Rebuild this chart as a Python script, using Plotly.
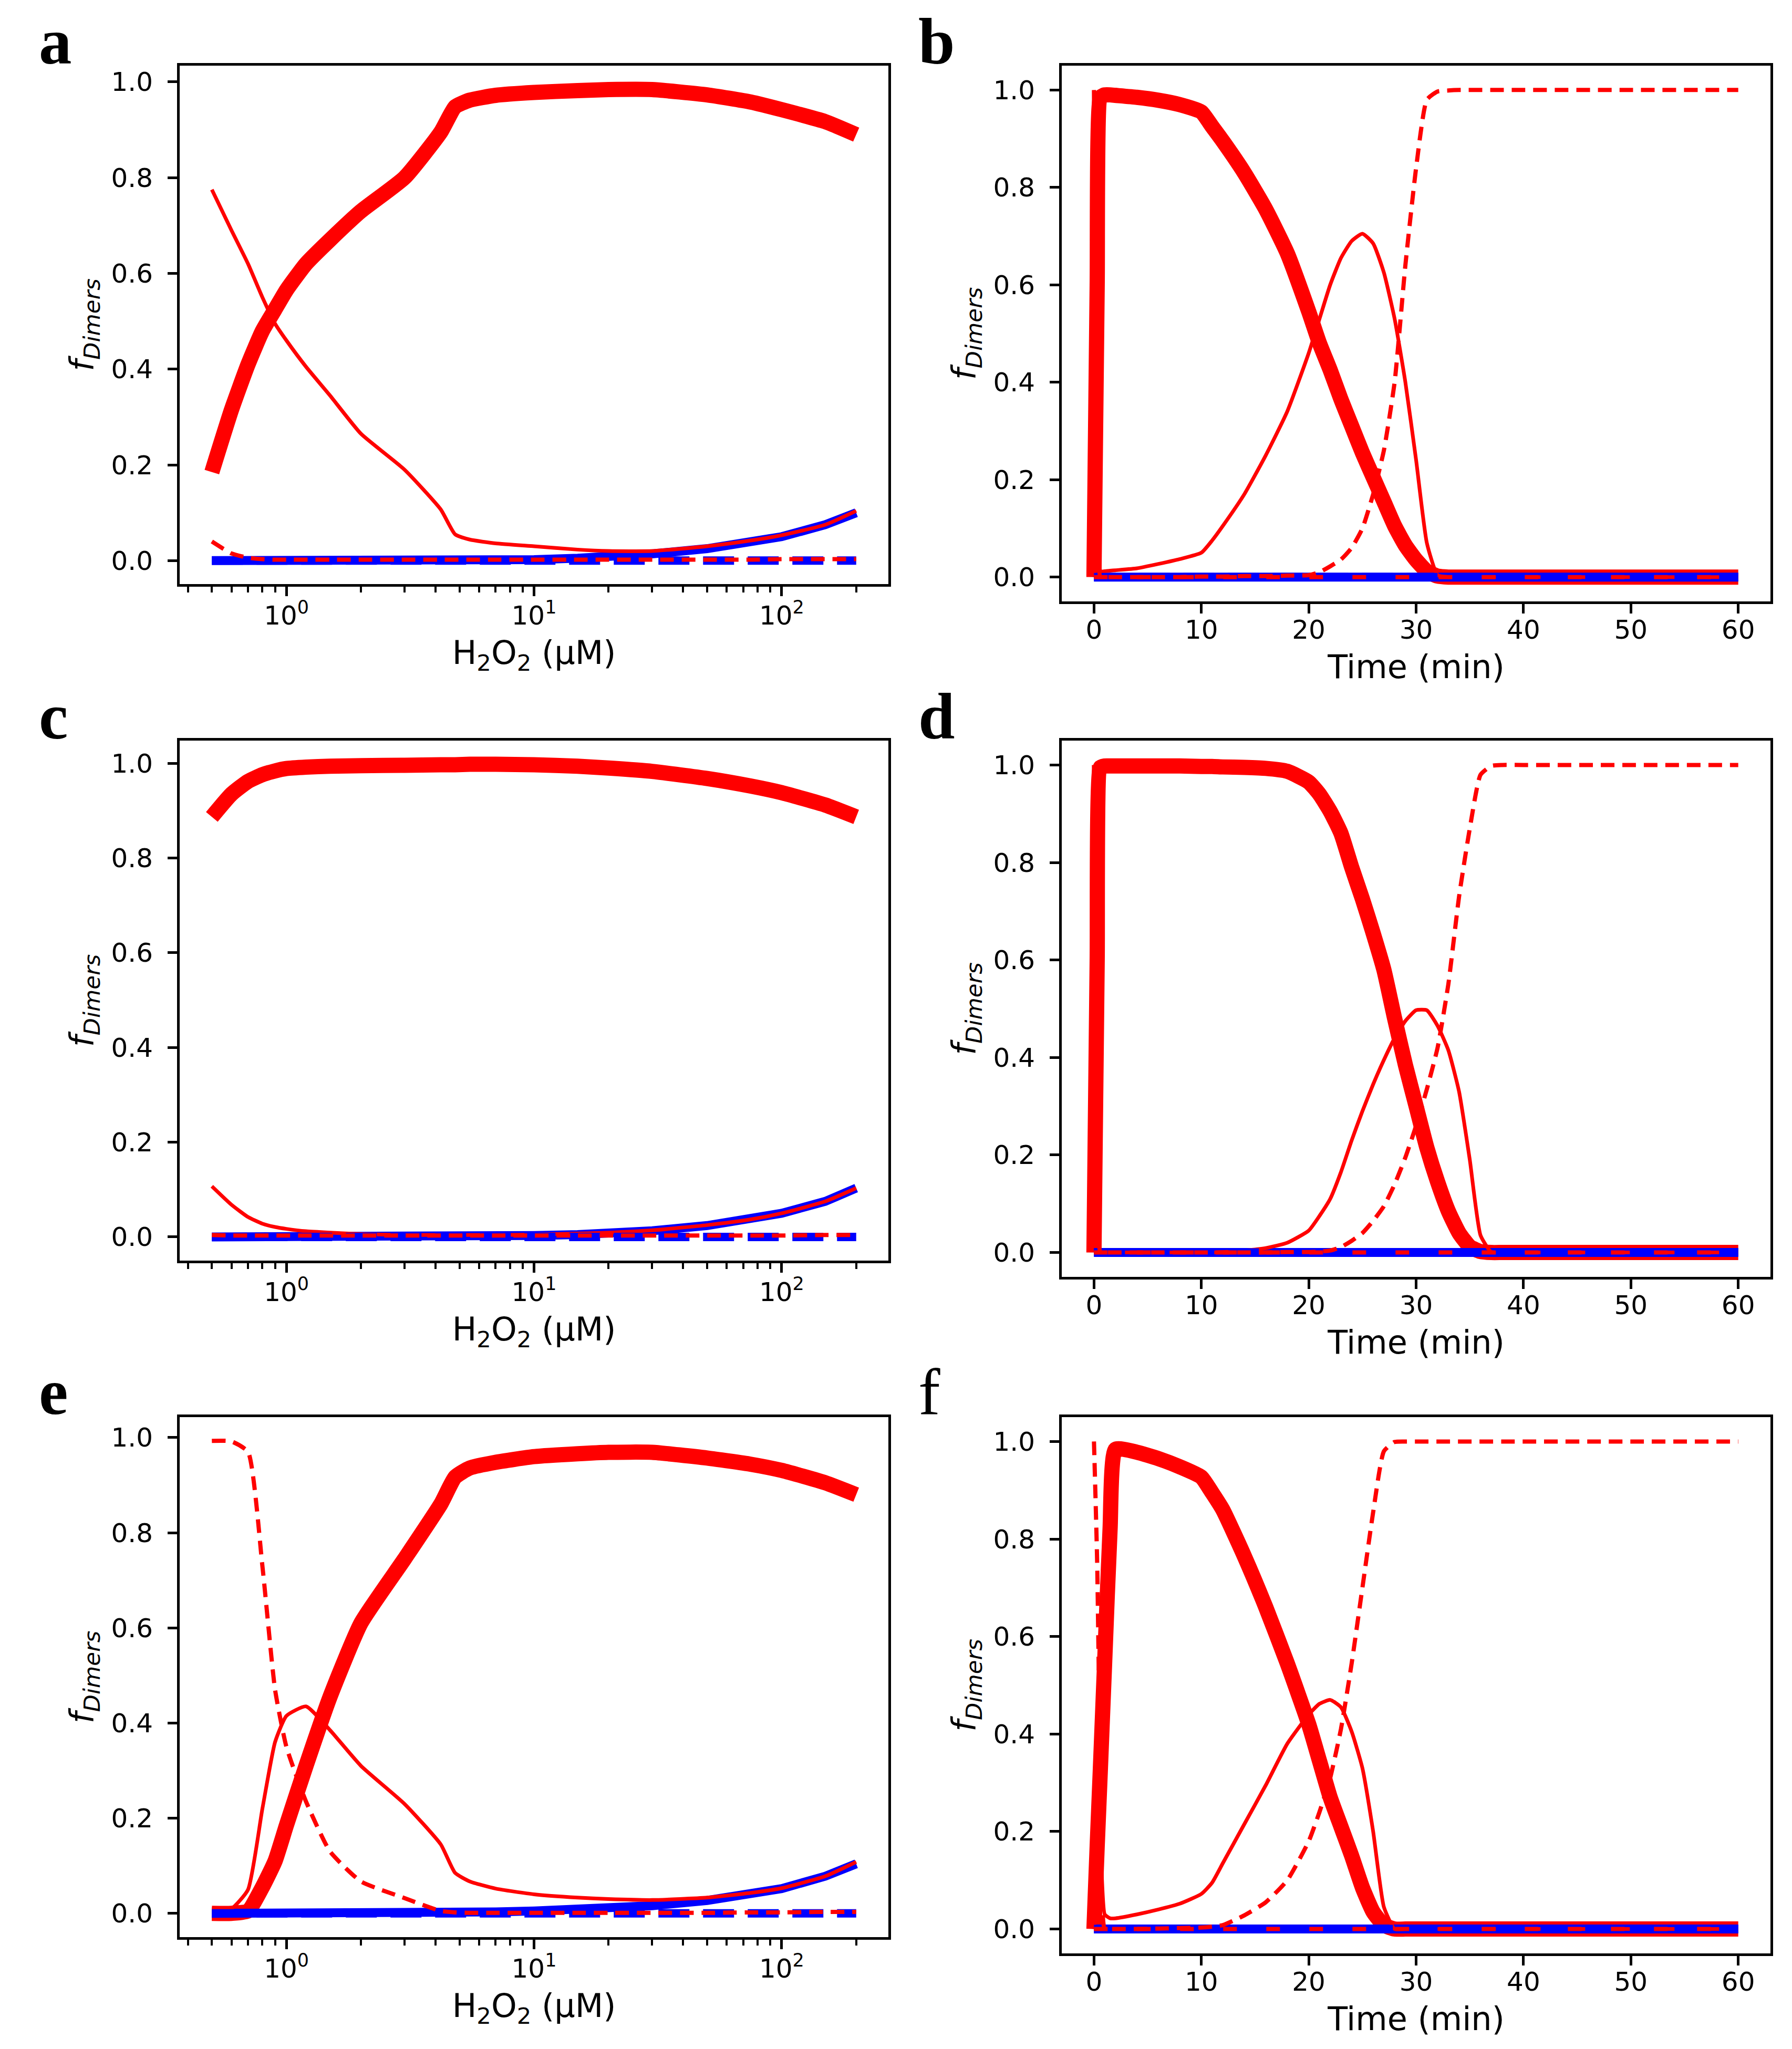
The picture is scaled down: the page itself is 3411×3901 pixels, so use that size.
import plotly.graph_objects as go

W, H = 3411, 3901

# ---- x grids ----
h2o2 = [0.5, 0.6, 0.7, 0.8, 0.9, 1.0, 1.2, 1.5, 2, 3, 4.2, 4.8, 5.5, 7, 10, 15, 20, 30, 50, 75, 100, 150, 200]
time_min = [0, 0.3, 0.6, 1, 1.5, 2, 4, 6, 8, 10, 11, 12, 14, 16, 18, 20, 21, 22, 23, 24, 25, 26, 27, 28, 29, 30,
            31, 32, 33, 34, 35, 36, 37, 38, 40, 50, 60]

zero_h2o2 = [0.0, 0.0, 0.0, 0.0, 0.0, 0.0, 0.0, 0.0, 0.0, 0.0, 0.0, 0.0, 0.0, 0.0, 0.0, 0.0, 0.0, 0.0, 0.0, 0.0,
             0.0, 0.0, 0.0]
zero_time = [0.0, 0.0, 0.0, 0.0, 0.0, 0.0, 0.0, 0.0, 0.0, 0.0, 0.0, 0.0, 0.0, 0.0, 0.0, 0.0, 0.0, 0.0, 0.0, 0.0,
             0.0, 0.0, 0.0, 0.0, 0.0, 0.0, 0.0, 0.0, 0.0, 0.0, 0.0, 0.0, 0.0, 0.0, 0.0, 0.0, 0.0]

# ---- panel a ----
a_thick = [0.185, 0.315, 0.41, 0.48, 0.525, 0.565, 0.62, 0.67, 0.73, 0.80, 0.895, 0.948, 0.962, 0.972, 0.978,
           0.982, 0.984, 0.984, 0.973, 0.958, 0.942, 0.917, 0.89]
a_thin = [0.775, 0.69, 0.62, 0.55, 0.495, 0.46, 0.405, 0.345, 0.265, 0.19, 0.107, 0.055, 0.044, 0.036, 0.03,
          0.023, 0.02, 0.02, 0.03, 0.042, 0.053, 0.075, 0.104]
a_dash = [0.04, 0.015, 0.006, 0.003, 0.002, 0.002, 0.002, 0.002, 0.002, 0.002, 0.002, 0.002, 0.002, 0.002, 0.002,
          0.002, 0.002, 0.002, 0.002, 0.002, 0.003, 0.003, 0.003]
a_blue = [0.0, 0.0, 0.0, 0.0, 0.0, 0.0, 0.0, 0.0, 0.0, 0.0, 0.0, 0.0, 0.0, 0.001, 0.002, 0.005, 0.008, 0.014,
          0.025, 0.038, 0.05, 0.075, 0.1]

# ---- panel c ----
c_thick = [0.887, 0.935, 0.962, 0.976, 0.984, 0.989, 0.992, 0.994, 0.995, 0.996, 0.997, 0.997, 0.998, 0.998,
           0.997, 0.994, 0.99, 0.983, 0.968, 0.952, 0.938, 0.912, 0.887]
c_thin = [0.107, 0.068, 0.042, 0.028, 0.021, 0.017, 0.012, 0.009, 0.006, 0.004, 0.004, 0.004, 0.004, 0.004, 0.005,
          0.007, 0.009, 0.014, 0.025, 0.037, 0.05, 0.075, 0.103]
c_dash = [0.004, 0.003, 0.003, 0.003, 0.003, 0.003, 0.003, 0.003, 0.003, 0.003, 0.003, 0.003, 0.003, 0.003, 0.003,
          0.003, 0.003, 0.003, 0.003, 0.003, 0.003, 0.004, 0.004]
c_blue = [0.0, 0.0, 0.0, 0.0, 0.0, 0.0, 0.0, 0.0, 0.0, 0.0, 0.001, 0.001, 0.001, 0.002, 0.003, 0.005, 0.008,
          0.013, 0.024, 0.037, 0.05, 0.075, 0.103]

# ---- panel e ----
e_thick = [0.0, 0.0, 0.005, 0.055, 0.11, 0.185, 0.31, 0.455, 0.61, 0.745, 0.86, 0.917, 0.936, 0.948, 0.96, 0.966,
           0.969, 0.969, 0.957, 0.944, 0.931, 0.905, 0.88]
e_thin = [0.009, 0.01, 0.05, 0.22, 0.36, 0.415, 0.435, 0.385, 0.31, 0.23, 0.145, 0.085, 0.067, 0.052, 0.04, 0.033,
          0.03, 0.028, 0.033, 0.043, 0.053, 0.078, 0.108]
e_dash = [0.993, 0.992, 0.97, 0.73, 0.47, 0.35, 0.235, 0.13, 0.067, 0.032, 0.005, 0.002, 0.001, 0.001, 0.001,
          0.001, 0.001, 0.001, 0.001, 0.002, 0.002, 0.003, 0.003]
e_blue = [0.0, 0.0, 0.0, 0.0, 0.0, 0.0, 0.0, 0.0, 0.0, 0.0, 0.001, 0.002, 0.002, 0.003, 0.005, 0.008, 0.011,
          0.016, 0.027, 0.04, 0.052, 0.078, 0.104]

# ---- panel b ----
b_thick = [0.0, 0.6, 0.985, 0.99, 0.99, 0.989, 0.985, 0.979, 0.97, 0.955, 0.925, 0.895, 0.83, 0.755, 0.665, 0.545,
           0.48, 0.425, 0.365, 0.31, 0.255, 0.205, 0.155, 0.105, 0.065, 0.035, 0.012, 0.002, 0.0, 0.0, 0.0, 0.0,
           0.0, 0.0, 0.0, 0.0, 0.0]
b_thin = [0.0, 0.05, 0.012, 0.012, 0.013, 0.014, 0.018, 0.027, 0.037, 0.05, 0.075, 0.105, 0.17, 0.25, 0.34, 0.46,
          0.53, 0.6, 0.655, 0.69, 0.705, 0.685, 0.625, 0.53, 0.4, 0.24, 0.07, 0.004, 0.0, 0.0, 0.0, 0.0, 0.0, 0.0,
          0.0, 0.0, 0.0]
b_dash = [1.0, 0.2, 0.0, 0.0, 0.0, 0.0, 0.0, 0.0, 0.0, 0.001, 0.001, 0.001, 0.002, 0.002, 0.003, 0.004, 0.01,
          0.022, 0.036, 0.06, 0.1, 0.17, 0.26, 0.4, 0.64, 0.84, 0.98, 0.997, 0.999, 1.0, 1.0, 1.0, 1.0, 1.0, 1.0,
          1.0, 1.0]
b_blue = [0.0, 0.0, 0.0, 0.0, 0.0, 0.0, 0.0, 0.0, 0.0, 0.0, 0.0, 0.001, 0.001, 0.001, 0.001, 0.002, 0.002, 0.002,
          0.002, 0.002, 0.002, 0.002, 0.002, 0.002, 0.002, 0.001, 0.001, 0.0, 0.0, 0.0, 0.0, 0.0, 0.0, 0.0, 0.0,
          0.0, 0.0]

# ---- panel d ----
d_thick = [0.0, 0.6, 0.995, 0.998, 0.998, 0.998, 0.998, 0.998, 0.998, 0.997, 0.997, 0.996, 0.995, 0.993, 0.987,
           0.965, 0.94, 0.905, 0.86, 0.79, 0.725, 0.655, 0.58, 0.48, 0.385, 0.3, 0.215, 0.145, 0.085, 0.04, 0.012,
           0.002, 0.0, 0.0, 0.0, 0.0, 0.0]
d_thin = [0.0, 0.0, 0.0, 0.0, 0.0, 0.0, 0.0, 0.0, 0.0, 0.0, 0.0, 0.001, 0.004, 0.009, 0.02, 0.045, 0.075, 0.11,
          0.165, 0.23, 0.29, 0.345, 0.395, 0.44, 0.475, 0.497, 0.497, 0.465, 0.415, 0.33, 0.19, 0.035, 0.001, 0.0,
          0.0, 0.0, 0.0]
d_dash = [1.0, 0.2, 0.0, 0.0, 0.0, 0.0, 0.0, 0.0, 0.0, 0.0, 0.0, 0.0, 0.0, 0.0, 0.001, 0.001, 0.002, 0.004,
          0.011, 0.024, 0.04, 0.065, 0.095, 0.14, 0.195, 0.26, 0.335, 0.42, 0.55, 0.73, 0.87, 0.98, 0.998, 1.0,
          1.0, 1.0, 1.0]
d_blue = [0.0, 0.0, 0.0, 0.0, 0.0, 0.0, 0.0, 0.0, 0.001, 0.001, 0.001, 0.001, 0.001, 0.001, 0.001, 0.001, 0.001,
          0.001, 0.001, 0.001, 0.001, 0.001, 0.001, 0.001, 0.001, 0.001, 0.001, 0.001, 0.001, 0.0, 0.0, 0.0, 0.0,
          0.0, 0.0, 0.0, 0.0]

# ---- panel f ----
f_thick = [0.0, 0.17, 0.33, 0.55, 0.82, 0.984, 0.978, 0.965, 0.948, 0.927, 0.895, 0.86, 0.765, 0.66, 0.545, 0.42,
           0.345, 0.27, 0.21, 0.15, 0.085, 0.035, 0.008, 0.0, 0.0, 0.0, 0.0, 0.0, 0.0, 0.0, 0.0, 0.0, 0.0, 0.0,
           0.0, 0.0, 0.0]
f_thin = [0.0, 0.1, 0.17, 0.03, 0.022, 0.022, 0.03, 0.04, 0.052, 0.072, 0.095, 0.135, 0.215, 0.295, 0.38, 0.44,
          0.462, 0.47, 0.455, 0.405, 0.33, 0.2, 0.045, 0.0, 0.0, 0.0, 0.0, 0.0, 0.0, 0.0, 0.0, 0.0, 0.0, 0.0, 0.0,
          0.0, 0.0]
f_dash = [1.0, 0.75, 0.3, 0.0, 0.0, 0.0, 0.0, 0.001, 0.002, 0.003, 0.005, 0.008, 0.028, 0.055, 0.1, 0.18, 0.24,
          0.31, 0.41, 0.545, 0.7, 0.855, 0.98, 0.999, 1.0, 1.0, 1.0, 1.0, 1.0, 1.0, 1.0, 1.0, 1.0, 1.0, 1.0, 1.0,
          1.0]
f_blue = [0.0, 0.0, 0.0, 0.0, 0.0, 0.0, 0.001, 0.001, 0.001, 0.001, 0.001, 0.001, 0.002, 0.002, 0.002, 0.002,
          0.002, 0.002, 0.002, 0.002, 0.001, 0.001, 0.001, 0.0, 0.0, 0.0, 0.0, 0.0, 0.0, 0.0, 0.0, 0.0, 0.0, 0.0,
          0.0, 0.0, 0.0]

letters = ["a", "b", "c", "d", "e", "f"]
h2o2_ticks = [1, 10, 100]
h2o2_ticktext = ["10<sup>0</sup>", "10<sup>1</sup>", "10<sup>2</sup>"]
h2o2_minor = [0.4, 0.5, 0.6, 0.7, 0.8, 0.9, 2, 3, 4, 5, 6, 7, 8, 9, 20, 30, 40, 50, 60, 70, 80, 90, 200]
time_ticks = [0, 10, 20, 30, 40, 50, 60]
y_ticks = [0.0, 0.2, 0.4, 0.6, 0.8, 1.0]

RED, BLUE = "#ff0000", "#0000ff"
FONT = "DejaVu Sans"

fig = go.Figure()


def add_panel(n, x, thick, thin, dash, blue, zero, zero_red=None):
    xa, ya = ("x", "y") if n == 1 else (f"x{n}", f"y{n}")
    kw = dict(x=x, xaxis=xa, yaxis=ya, mode="lines", showlegend=False, hoverinfo="skip")
    sm = dict(shape="spline", smoothing=0.5)
    fig.add_trace(go.Scatter(y=thick, line=dict(color=RED, width=29, **sm), **kw))
    fig.add_trace(go.Scatter(y=blue, line=dict(color=BLUE, width=17), **kw))
    fig.add_trace(go.Scatter(y=thin, line=dict(color=RED, width=7, **sm), **kw))
    fig.add_trace(go.Scatter(y=zero, line=dict(color=BLUE, width=16, dash="59px,26px"), **kw))
    if zero_red is not None:
        fig.add_trace(go.Scatter(y=zero_red, line=dict(color=RED, width=8, dash="26px,56px"), **kw))
    fig.add_trace(go.Scatter(y=dash, line=dict(color=RED, width=8, dash="26px,15px", **sm), **kw))


add_panel(1, h2o2, a_thick, a_thin, a_dash, a_blue, zero_h2o2)
add_panel(2, time_min, b_thick, b_thin, b_dash, b_blue, zero_time, zero_time)
add_panel(3, h2o2, c_thick, c_thin, c_dash, c_blue, zero_h2o2)
add_panel(4, time_min, d_thick, d_thin, d_dash, d_blue, zero_time, zero_time)
add_panel(5, h2o2, e_thick, e_thin, e_dash, e_blue, zero_h2o2)
add_panel(6, time_min, f_thick, f_thin, f_dash, f_blue, zero_time, zero_time)

# pixel boxes of the six axes (left, right, top, bottom) and y ranges
boxes = [(334, 1683, 117, 1104), (2013, 3362, 117, 1137),
         (334, 1683, 1402, 2392), (2013, 3362, 1402, 2423),
         (334, 1683, 2690, 3680), (2013, 3362, 2690, 3711)]
yranges = [[-0.049, 1.034], [-0.05, 1.05], [-0.05, 1.048], [-0.05, 1.05], [-0.05, 1.043], [-0.05, 1.05]]

base = dict(showline=True, linecolor="black", linewidth=5, mirror=True, ticks="outside", ticklen=18,
            tickwidth=5, tickcolor="black", showgrid=False, zeroline=False, automargin=False,
            tickfont=dict(family=FONT, size=50, color="black"))
title_font = dict(family=FONT, size=62, color="black")

layout = {}
for i, (l, r, t, b) in enumerate(boxes):
    n = i + 1
    xk = "xaxis" if n == 1 else f"xaxis{n}"
    yk = "yaxis" if n == 1 else f"yaxis{n}"
    ya = "y" if n == 1 else f"y{n}"
    xa = "x" if n == 1 else f"x{n}"
    if n % 2 == 1:
        xax = dict(base, type="log", range=[-0.431, 2.431], tickmode="array", tickvals=h2o2_ticks,
                   ticktext=h2o2_ticktext, ticklabelstandoff=-6,
                   minor=dict(tickmode="array", tickvals=h2o2_minor, ticks="outside", ticklen=11, tickwidth=4,
                              tickcolor="black", showgrid=False),
                   title=dict(text="H<sub>2</sub>O<sub>2</sub> (μM)", standoff=22, font=title_font))
    else:
        xax = dict(base, range=[-3, 63], tickmode="array", tickvals=time_ticks, ticklabelstandoff=-12,
                   title=dict(text="Time (min)", standoff=22, font=title_font))
    xax.update(domain=[l / W, r / W], anchor=ya)
    yax = dict(base, range=yranges[i], tickmode="array", tickvals=y_ticks, tickformat=".1f",
               ticklabelstandoff=18, domain=[1 - b / H, 1 - t / H], anchor=xa,
               title=dict(text="<i>f</i><sub><i>Dimers</i></sub>", standoff=15, font=title_font))
    layout[xk] = xax
    layout[yk] = yax

# top of each panel letter's text box, in pixels
letter_pos = [(64, 0), (1738, 0), (64, 1285), (1738, 1285), (64, 2571), (1738, 2571)]
annotations = []
for k, (px, py) in enumerate(letter_pos):
    txt = letters[k] if letters[k] == "f" else f"<b>{letters[k]}</b>"
    annotations.append(dict(text=txt, x=px / W, y=1 - py / H, xref="paper", yref="paper",
                            xanchor="left", yanchor="top", showarrow=False,
                            font=dict(family="Liberation Serif", size=125, color="black")))

fig.update_layout(width=W, height=H, template="none", margin=dict(l=0, r=0, t=0, b=0, autoexpand=False),
                  paper_bgcolor="white", plot_bgcolor="white", showlegend=False,
                  font=dict(family=FONT, color="black"), annotations=annotations, **layout)

fig.write_html("out.html")
